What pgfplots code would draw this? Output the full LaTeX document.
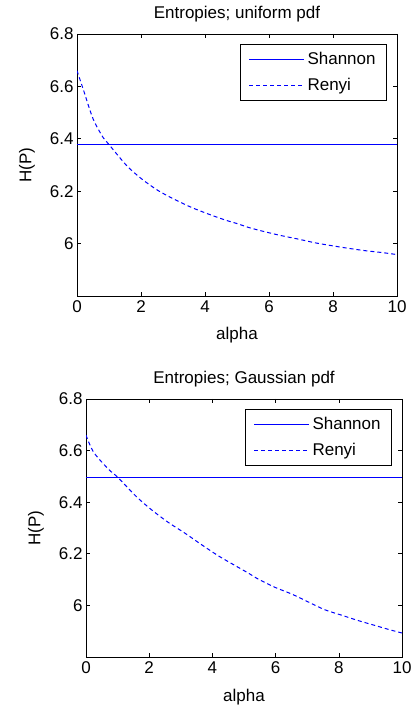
\documentclass[border=0pt]{standalone}
\usepackage{pgfplots}
\pgfplotsset{compat=1.18}
\usepackage{fontspec}
\setmainfont{Liberation Sans}
\newcommand{\ff}{\fontsize{17}{20}\selectfont}
\pgfplotsset{
  mystyle/.style={
    scale only axis,
    xmin=0, xmax=10, ymin=5.8, ymax=6.8,
    xtick={0,2,4,6,8,10},
    ytick={6,6.2,6.4,6.6,6.8},
    yticklabels={6,6.2,6.4,6.6,6.8},
    tick align=inside,
    major tick length=4pt,
    tick style={black, line width=0.6pt},
    axis line style={black, line width=0.8pt},
    /pgf/number format/assume math mode=true,
    ticklabel style={font=\ff, text=black},
    xticklabel style={yshift=-1pt},
    label style={font=\ff, text=black},
    title style={font=\ff, text=black, at={(axis description cs:0.5,1)}, anchor=base, yshift=9pt},
    xlabel={alpha},
    ylabel={H(P)},
    ylabel style={at={(axis description cs:0,0.5)}, anchor=center, yshift=50pt},
    legend cell align=left,
    legend style={at={(1,1)}, anchor=north east, xshift=-10pt, yshift=-10pt,
      draw=black, text=black, line width=0.8pt, font=\ff,
      inner xsep=8pt, inner ysep=6pt, row sep=8pt,
      nodes={inner xsep=3pt, text=black}},
    legend image code/.code={\draw[blue, line width=1pt, #1] (0pt,0pt) -- (55pt,0pt);},
  }
}
\begin{document}
\begin{tikzpicture}[color=blue]
\useasboundingbox (0pt,0pt) rectangle (414pt,708pt);
\begin{axis}[mystyle, at={(77pt,412pt)}, anchor=south west, width=320pt, height=262pt,
  title={Entropies; uniform pdf}, xlabel style={at={(axis description cs:0.5,0)}, anchor=center, yshift=-39pt}]
\addplot[blue, line width=1pt] coordinates {(0,6.378) (10,6.378)};
\addlegendentry{Shannon}
\addplot[blue, line width=1pt, dash pattern=on 4pt off 3pt, smooth] coordinates {
(0,6.660) (0.2,6.587) (0.5,6.477) (0.82,6.404) (1.0,6.378) (1.55,6.298) (2.02,6.247)
(2.54,6.202) (3.06,6.168) (3.58,6.138) (4.1,6.113) (4.63,6.090) (5.04,6.075)
(5.35,6.062) (5.875,6.045) (6.4,6.030) (6.92,6.017) (7.44,6.003) (7.96,5.992)
(8.48,5.982) (9.0,5.973) (9.52,5.966) (10,5.958)};
\addlegendentry{Renyi}
\end{axis}
\begin{axis}[mystyle, at={(86pt,51pt)}, anchor=south west, width=316pt, height=258pt,
  title={Entropies; Gaussian pdf}, xlabel style={at={(axis description cs:0.5,0)}, anchor=center, yshift=-40pt}]
\addplot[blue, line width=1pt] coordinates {(0,6.497) (10,6.497)};
\addlegendentry{Shannon}
\addplot[blue, line width=1pt, dash pattern=on 4pt off 3pt, smooth] coordinates {
(0,6.660) (0.24,6.594) (0.71,6.528) (1.0,6.497) (1.6,6.421) (2.08,6.370)
(2.6,6.322) (3.13,6.280) (3.66,6.235) (4.19,6.192) (4.71,6.155) (5.14,6.125)
(5.45,6.102) (5.98,6.070) (6.51,6.044) (7.04,6.013) (7.56,5.983) (8.09,5.962)
(8.62,5.941) (9.15,5.922) (9.6,5.906) (10,5.893)};
\addlegendentry{Renyi}
\end{axis}
\end{tikzpicture}
\end{document}
